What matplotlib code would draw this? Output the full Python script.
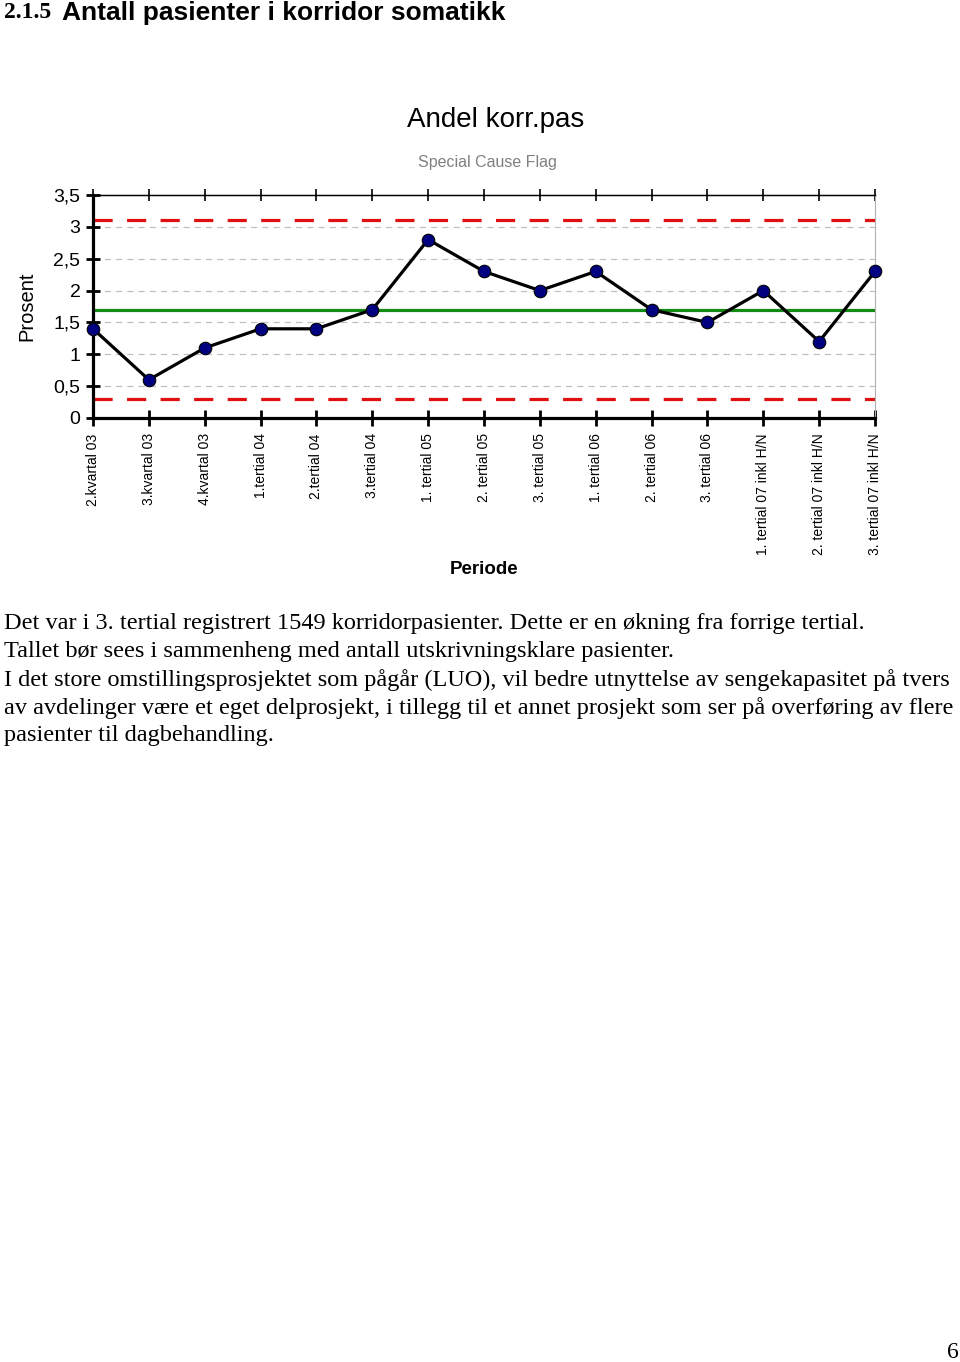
import matplotlib
matplotlib.use("Agg")
import matplotlib.pyplot as plt
import numpy as np

periods = ["2.kvartal 03", "3.kvartal 03", "4.kvartal 03", "1.tertial 04", "2.tertial 04",
           "3.tertial 04", "1. tertial 05", "2. tertial 05", "3. tertial 05", "1. tertial 06",
           "2. tertial 06", "3. tertial 06", "1. tertial 07 inkl H/N", "2. tertial 07 inkl H/N",
           "3. tertial 07 inkl H/N"]
andel = [1.4, 0.6, 1.1, 1.4, 1.4, 1.7, 2.8, 2.3, 2.0, 2.3, 1.7, 1.5, 2.0, 1.2, 2.3]
center_line = 1.7
ucl = 3.1
lcl = 0.3
y_ticks = [0, 0.5, 1, 1.5, 2, 2.5, 3, 3.5]
y_ticklabels = ["0", "0,5", "1", "1,5", "2", "2,5", "3", "3,5"]

body_lines = [
    "Det var i 3. tertial registrert 1549 korridorpasienter. Dette er en økning fra forrige tertial.",
    "Tallet bør sees i sammenheng med antall utskrivningsklare pasienter.",
    "I det store omstillingsprosjektet som pågår (LUO), vil bedre utnyttelse av sengekapasitet på tvers",
    "av avdelinger være et eget delprosjekt, i tillegg til et annet prosjekt som ser på overføring av flere",
    "pasienter til dagbehandling.",
]

W, H = 960, 1362
fig = plt.figure(figsize=(W / 100, H / 100), dpi=100)

def fx(px):
    return px / W

def fy(py):
    return 1 - py / H

# Header
fig.text(fx(4), fy(13), "2.1.5", family="Liberation Serif", fontweight="bold",
         fontsize=17, va="center", ha="left")
fig.text(fx(62), fy(13), "Antall pasienter i korridor somatikk", family="Liberation Sans",
         fontweight="bold", fontsize=19, va="center", ha="left")

ax_left, ax_right, ax_top, ax_bottom = 93, 875, 195, 418
ax = fig.add_axes([fx(ax_left), fy(ax_bottom), fx(ax_right) - fx(ax_left), fy(ax_top) - fy(ax_bottom)])
x = np.arange(len(periods))

ax.set_xlim(0, len(periods) - 1)
ax.set_ylim(0, 3.5)

for yv in y_ticks[1:-1]:
    ax.axhline(yv, color="#c0c0c0", lw=0.9, ls=(0, (5, 4)), zorder=1)

ax.axhline(ucl, color="#e01010", lw=2.3, ls=(0, (6, 4.5)), zorder=2, clip_on=False)
ax.axhline(lcl, color="#e01010", lw=2.3, ls=(0, (6, 4.5)), zorder=2, clip_on=False)
ax.axhline(center_line, color="#138a13", lw=2.3, zorder=2)

ax.plot(x, andel, color="black", lw=2.3, marker="o", markersize=9,
        markerfacecolor="#000080", markeredgecolor="black", markeredgewidth=0.8,
        zorder=4, clip_on=False)

ax.set_yticks(y_ticks)
ax.set_yticklabels(y_ticklabels, family="Liberation Sans", fontsize=14)
ax.set_xticks(x)
ax.set_xticklabels(periods, rotation=90, family="Liberation Sans", fontsize=10, va="top")

for s in ["left", "bottom"]:
    ax.spines[s].set_linewidth(2.3)
    ax.spines[s].set_color("black")
ax.spines["top"].set_linewidth(1.0)
ax.spines["top"].set_color("black")
ax.spines["right"].set_linewidth(0.8)
ax.spines["right"].set_color("#b0b0b0")

ax.tick_params(axis="y", direction="inout", length=10, width=2, pad=4)
ax.tick_params(axis="x", direction="inout", length=12, width=2, pad=5)

# top ticks
axt = ax.secondary_xaxis("top")
axt.set_xticks(x)
axt.set_xticklabels([])
axt.tick_params(direction="inout", length=9, width=1.2)

ax.set_ylabel("Prosent", family="Liberation Sans", fontsize=14.5)
ax.yaxis.set_label_coords((36 - ax_left) / (ax_right - ax_left), 0.5)

fig.text(fx(496), fy(120), "Andel korr.pas", family="Liberation Sans", fontsize=20,
         ha="center", va="center")
fig.text(fx(487), fy(163), "Special Cause Flag", family="Liberation Sans", fontsize=11.5,
         color="#808080", ha="center", va="center")
fig.text(fx(484), fy(570), "Periode", family="Liberation Sans", fontweight="bold",
         fontsize=13.5, ha="center", va="center")

for i, line in enumerate(body_lines):
    fig.text(fx(4), fy(624 + 28 * i), line, family="Liberation Serif", fontsize=17.5,
             ha="left", va="center")

fig.text(fx(953), fy(1352), "6", family="Liberation Serif", fontsize=17,
         ha="center", va="center")

fig.savefig("out.png", dpi=100)
